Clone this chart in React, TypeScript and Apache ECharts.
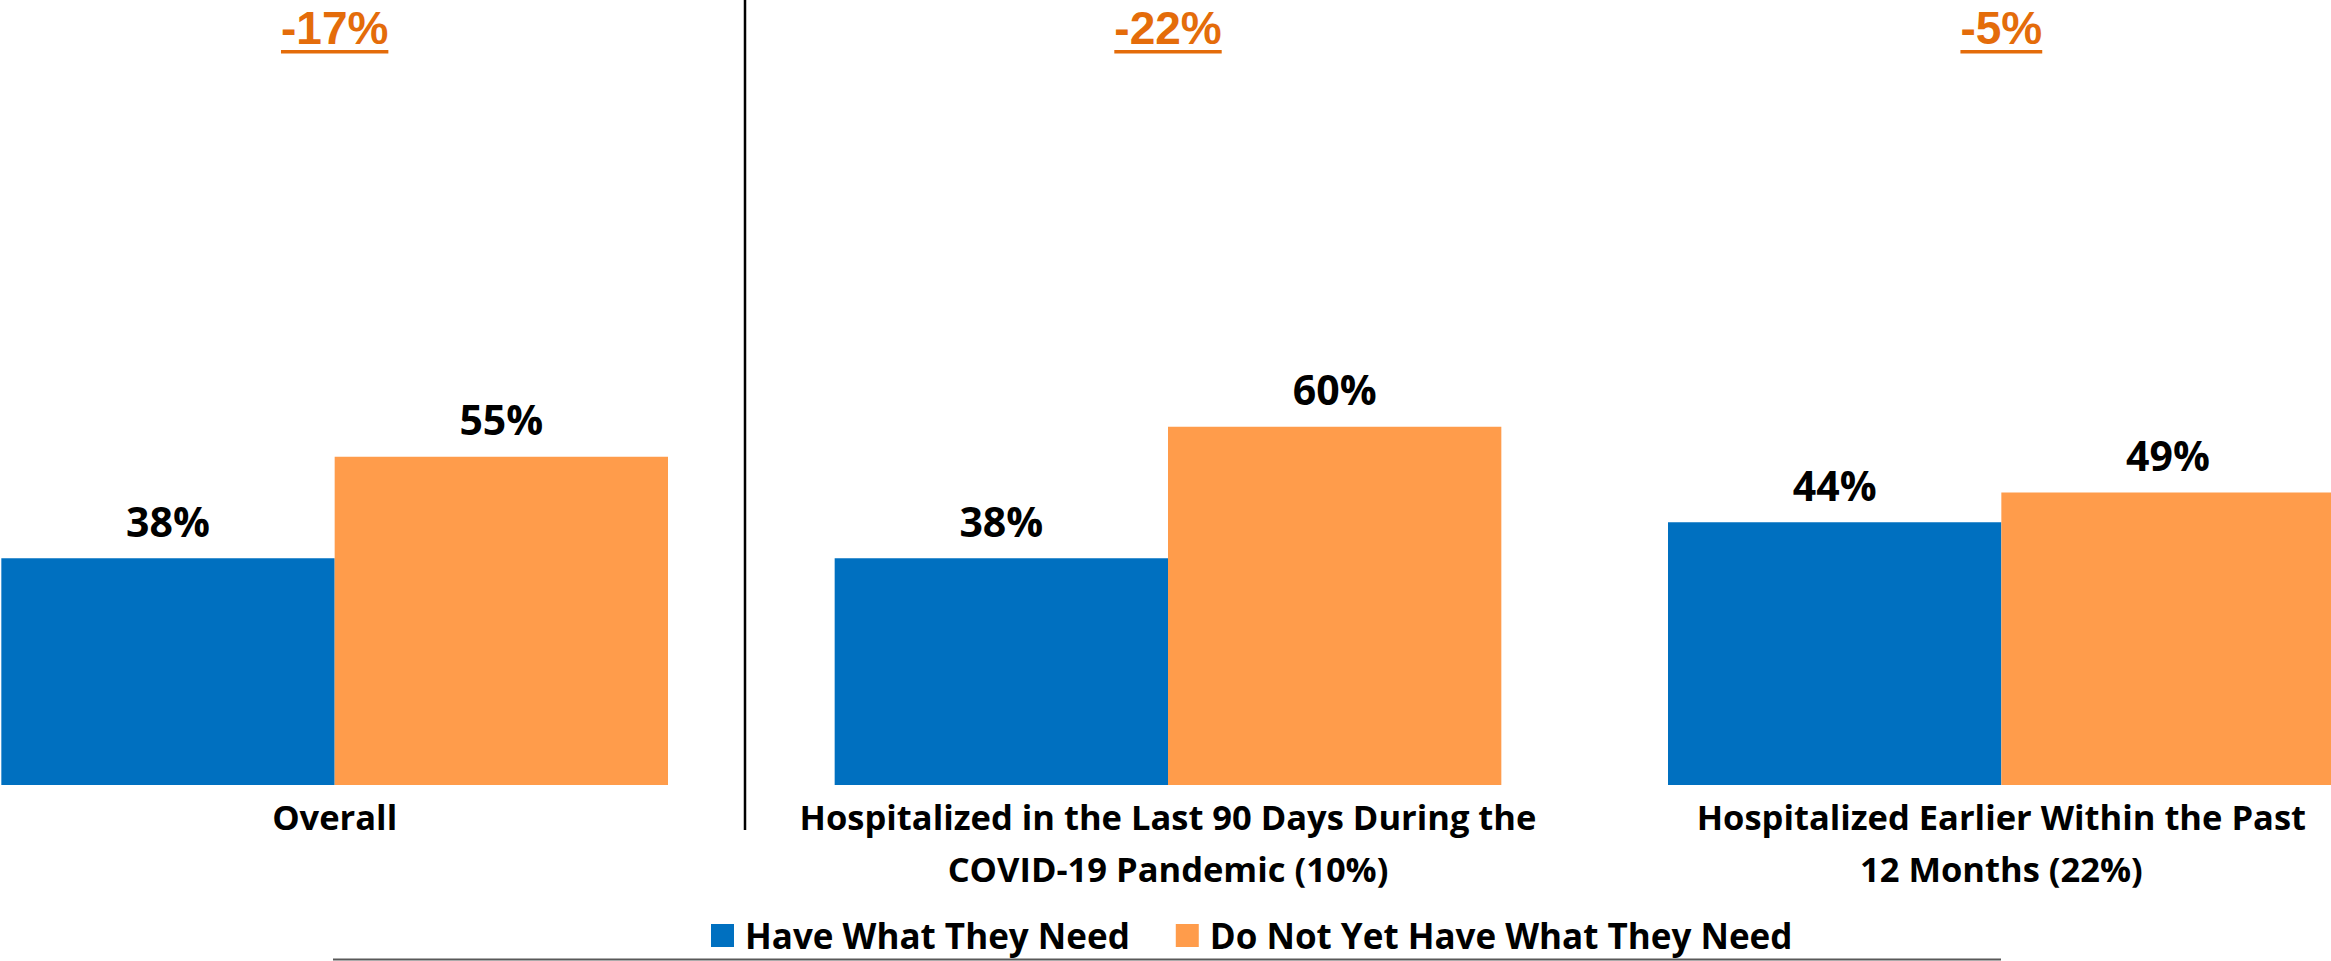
import React, { useEffect, useRef } from "react";
import * as echarts from "echarts";

const categories = [
  "Overall",
  "Hospitalized in the Last 90 Days During the\nCOVID-19 Pandemic (10%)",
  "Hospitalized Earlier Within the Past\n12 Months (22%)",
];
const seriesNames = ["Have What They Need", "Do Not Yet Have What They Need"];
const haveValues = [38, 38, 44];
const notYetValues = [55, 60, 49];

const BLUE = "#0070C0";
const ORANGE = "#FF9C4B";
const DIFF_COLOR = "#E46C0A";
const FONT = "'Open Sans'";
const DIFF_FONT_FAMILY = "'Liberation Sans'";
const SHIFT = 82; // chart canvas starts 82px left of the visible page

function measure(text: string, font: string) {
  const c = document.createElement("canvas").getContext("2d");
  if (!c) return text.length * 20;
  c.font = font;
  return c.measureText(text).width;
}

export default function App() {
  const ref = useRef<HTMLDivElement>(null);
  useEffect(() => {
    if (!ref.current) return;
    const chart = echarts.init(ref.current, null, { renderer: "svg" });
    const valueLabel = {
      show: true,
      position: "top" as const,
      distance: 17,
      fontFamily: FONT,
      fontWeight: "bold" as const,
      fontSize: 41,
      lineHeight: 41,
      color: "#000",
      formatter: (p: any) => `${p.value}%`,
    };
    chart.setOption({
      animation: false,
      backgroundColor: "#fff",
      grid: { left: 0, right: 0, top: 188, bottom: 176, containLabel: false },
      legend: {
        left: 706 + SHIFT,
        top: 913,
        itemWidth: 23,
        itemHeight: 23,
        itemGap: 46,
        icon: "rect",
        textStyle: {
          fontFamily: FONT,
          fontWeight: "bold",
          fontSize: 35,
          color: "#000",
          padding: [0, 0, 0, 6],
        },
        data: seriesNames,
      },
      xAxis: {
        type: "category",
        data: categories,
        axisLine: { show: false },
        axisTick: { show: false },
        axisLabel: {
          interval: 0,
          margin: 5,
          fontFamily: FONT,
          fontWeight: "bold",
          fontSize: 34.5,
          lineHeight: 52,
          color: "#000",
        },
      },
      yAxis: {
        type: "value",
        min: 0,
        max: 100,
        show: false,
        splitLine: { show: false },
      },
      series: [
        {
          name: seriesNames[0],
          type: "bar",
          data: haveValues,
          barGap: "0%",
          barCategoryGap: "20%",
          itemStyle: { color: BLUE },
          label: valueLabel,
        },
        {
          name: seriesNames[1],
          type: "bar",
          data: notYetValues,
          itemStyle: { color: ORANGE },
          label: valueLabel,
        },
      ],
    });

    const diffFontSize = 46;
    const diffFont = `bold ${diffFontSize}px ${DIFF_FONT_FAMILY}`;
    const graphics: any[] = [];
    categories.forEach((_, i) => {
      const diff = haveValues[i] - notYetValues[i];
      const text = `${diff}%`;
      const x = chart.convertToPixel({ xAxisIndex: 0 }, i) as number;
      const w = measure(text, diffFont);
      graphics.push({
        type: "text",
        x,
        y: 28,
        style: {
          text,
          fill: DIFF_COLOR,
          font: diffFont,
          textAlign: "center",
          textVerticalAlign: "middle",
        },
      });
      graphics.push({
        type: "rect",
        shape: { x: x - w / 2, y: 50, width: w, height: 3.5 },
        style: { fill: DIFF_COLOR },
      });
    });
    graphics.push({
      type: "line",
      shape: { x1: 745 + SHIFT, y1: 0, x2: 745 + SHIFT, y2: 830 },
      style: { stroke: "#000", lineWidth: 2.5 },
    });
    graphics.push({
      type: "line",
      shape: { x1: 333 + SHIFT, y1: 959.5, x2: 2001 + SHIFT, y2: 959.5 },
      style: { stroke: "#595959", lineWidth: 2 },
    });
    chart.setOption({ graphic: graphics });

    return () => chart.dispose();
  }, []);
  return (
    <div
      style={{
        position: "absolute",
        left: 0,
        top: 0,
        width: 2331,
        height: 961,
        overflow: "hidden",
        background: "#fff",
      }}
    >
      <div
        ref={ref}
        style={{ position: "absolute", left: -SHIFT, top: 0, width: 2500, height: 961 }}
      />
    </div>
  );
}
